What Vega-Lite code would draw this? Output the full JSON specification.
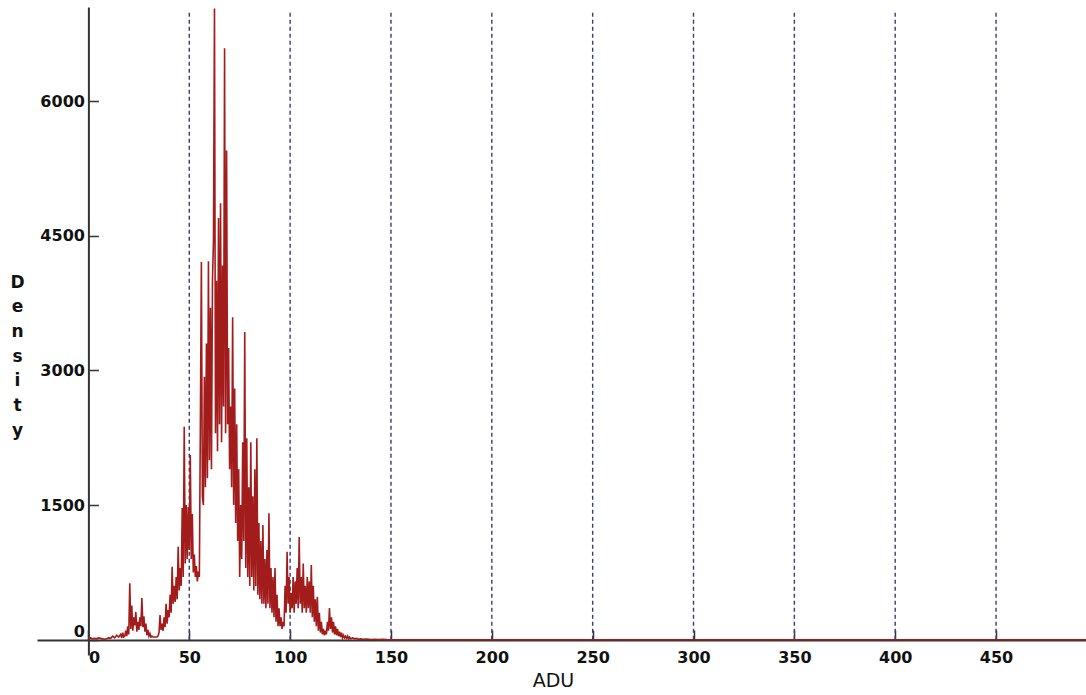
{
  "$schema": "https://vega.github.io/schema/vega-lite/v6.json",
  "width": 1049,
  "height": 648,
  "autosize": "none",
  "padding": {"left": 37, "top": 7, "right": 0, "bottom": 40},
  "background": "white",
  "config": {"view": {"stroke": null}},
  "layer": [
    {
      "data": {"values": [{"x": 50}, {"x": 100}, {"x": 150}, {"x": 200}, {"x": 250}, {"x": 300}, {"x": 350}, {"x": 400}, {"x": 450}]},
      "mark": {"type": "rule", "color": "#3a3a80", "strokeWidth": 1.4, "strokeDash": [4, 3]},
      "encoding": {
        "x": {"field": "x", "type": "quantitative", "scale": {"domain": [-25.5, 494.6], "nice": false, "zero": false},
          "axis": {"title": "ADU", "format": "d", "values": [0, 50, 100, 150, 200, 250, 300, 350, 400, 450], "orient": "bottom", "offset": -15, "domainColor": "#333", "domainWidth": 2, "tickColor": "#333", "tickWidth": 1.5, "tickSize": -10, "labelPadding": 19, "labelFont": "DejaVu Sans", "labelFontWeight": "bold", "labelFontSize": 16, "labelColor": "#111", "labelAlign": {"condition": {"test": "datum.value === 0", "value": "left"}, "value": "center"}, "labelBaseline": "top", "labelFlush": false, "labelOverlap": false, "grid": false, "titleFont": "DejaVu Sans", "titleFontSize": 19, "titleFontWeight": "normal", "titleColor": "#111", "titleX": 516, "titleY": 31, "titleAlign": "center", "titleBaseline": "top"}},
        "y": {"datum": 0, "type": "quantitative", "scale": {"domain": [-170, 7050], "nice": false, "zero": false},
          "axis": {"title": ["D", "e", "n", "s", "i", "t", "y"], "format": "d", "values": [0, 1500, 3000, 4500, 6000], "offset": -51.4, "domainColor": "#333", "domainWidth": 2, "tickColor": "#333", "tickWidth": 1.5, "tickSize": -10, "labelPadding": 14, "labelFont": "DejaVu Sans", "labelFontWeight": "bold", "labelFontSize": 16, "labelColor": "#111", "labelAlign": "right", "labelBaseline": {"condition": {"test": "datum.value === 0", "value": "bottom"}, "value": "middle"}, "labelOverlap": false, "labelFlush": false, "grid": false, "titleAngle": 0, "titleX": -71.4, "titleY": 280, "titleAlign": "center", "titleBaseline": "alphabetic", "titleLineHeight": 24.7, "titleFont": "DejaVu Sans", "titleFontWeight": "bold", "titleFontSize": 17, "titleColor": "#111"}},
        "y2": {"datum": 6990}
      }
    },
    {
      "data": {"values": [
        {"x": 0, "y": 10}, {"x": 1, "y": 20}, {"x": 2, "y": 10}, {"x": 3, "y": 15}, {"x": 4, "y": 10}, {"x": 5, "y": 20}, {"x": 6, "y": 15}, {"x": 7, "y": 10}, {"x": 8, "y": 5}, {"x": 9, "y": 10},
        {"x": 10, "y": 20}, {"x": 11, "y": 15}, {"x": 12, "y": 40}, {"x": 13, "y": 20}, {"x": 14, "y": 50}, {"x": 15, "y": 30}, {"x": 16, "y": 60}, {"x": 16.5, "y": 20}, {"x": 17, "y": 80}, {"x": 17.5, "y": 30},
        {"x": 18, "y": 40}, {"x": 18.5, "y": 100}, {"x": 19, "y": 40}, {"x": 19.5, "y": 150}, {"x": 20, "y": 60}, {"x": 20.5, "y": 630}, {"x": 21, "y": 120}, {"x": 21.5, "y": 380}, {"x": 22, "y": 100}, {"x": 22.5, "y": 250},
        {"x": 23, "y": 160}, {"x": 23.5, "y": 310}, {"x": 24, "y": 90}, {"x": 24.5, "y": 200}, {"x": 25, "y": 110}, {"x": 25.5, "y": 250}, {"x": 26, "y": 150}, {"x": 26.5, "y": 465}, {"x": 27, "y": 140}, {"x": 27.5, "y": 260},
        {"x": 28, "y": 90}, {"x": 28.5, "y": 180}, {"x": 29, "y": 50}, {"x": 29.5, "y": 110}, {"x": 30, "y": 40}, {"x": 30.5, "y": 70}, {"x": 31, "y": 30}, {"x": 31.5, "y": 40}, {"x": 32, "y": 30}, {"x": 33, "y": 30},
        {"x": 34, "y": 30}, {"x": 34.5, "y": 40}, {"x": 35, "y": 80}, {"x": 35.5, "y": 275}, {"x": 36, "y": 110}, {"x": 36.5, "y": 180}, {"x": 37, "y": 100}, {"x": 37.5, "y": 250}, {"x": 38, "y": 140}, {"x": 38.5, "y": 400},
        {"x": 39, "y": 180}, {"x": 39.5, "y": 330}, {"x": 40, "y": 250}, {"x": 40.5, "y": 500}, {"x": 41, "y": 300}, {"x": 41.5, "y": 813}, {"x": 42, "y": 400}, {"x": 42.5, "y": 600}, {"x": 43, "y": 420}, {"x": 43.5, "y": 700},
        {"x": 44, "y": 450}, {"x": 44.5, "y": 1036}, {"x": 45, "y": 550}, {"x": 45.5, "y": 800}, {"x": 46, "y": 600}, {"x": 46.5, "y": 1467}, {"x": 47, "y": 700}, {"x": 47.5, "y": 2373}, {"x": 48, "y": 850}, {"x": 48.5, "y": 1500},
        {"x": 49, "y": 900}, {"x": 49.5, "y": 1480}, {"x": 50, "y": 1000}, {"x": 50.5, "y": 2057}, {"x": 51, "y": 900}, {"x": 51.5, "y": 1400}, {"x": 52, "y": 750}, {"x": 52.5, "y": 950}, {"x": 53, "y": 700}, {"x": 53.5, "y": 820},
        {"x": 54, "y": 650}, {"x": 54.5, "y": 760}, {"x": 55, "y": 700}, {"x": 55.5, "y": 2400}, {"x": 56, "y": 4210}, {"x": 56.5, "y": 1600}, {"x": 57, "y": 1500}, {"x": 57.5, "y": 2930}, {"x": 58, "y": 1700}, {"x": 58.5, "y": 3300},
        {"x": 59, "y": 1800}, {"x": 59.5, "y": 4218}, {"x": 60, "y": 2000}, {"x": 60.5, "y": 3700}, {"x": 61, "y": 1900}, {"x": 61.5, "y": 4000}, {"x": 62, "y": 4452}, {"x": 62.5, "y": 7033}, {"x": 63, "y": 2300}, {"x": 63.5, "y": 4000},
        {"x": 64, "y": 2100}, {"x": 64.5, "y": 4700}, {"x": 65, "y": 2400}, {"x": 65.5, "y": 4863}, {"x": 66, "y": 2200}, {"x": 66.5, "y": 4170}, {"x": 67, "y": 2600}, {"x": 67.5, "y": 6590}, {"x": 68, "y": 2300}, {"x": 68.5, "y": 5450},
        {"x": 69, "y": 2400}, {"x": 69.5, "y": 3250}, {"x": 70, "y": 1900}, {"x": 70.5, "y": 2600}, {"x": 71, "y": 1700}, {"x": 71.5, "y": 3593}, {"x": 72, "y": 1500}, {"x": 72.5, "y": 2800}, {"x": 73, "y": 1300}, {"x": 73.5, "y": 2400},
        {"x": 74, "y": 1100}, {"x": 74.5, "y": 1900}, {"x": 75, "y": 700}, {"x": 75.5, "y": 1500}, {"x": 76, "y": 900}, {"x": 76.5, "y": 2200}, {"x": 77, "y": 1100}, {"x": 77.5, "y": 3430}, {"x": 78, "y": 800}, {"x": 78.5, "y": 2245},
        {"x": 79, "y": 700}, {"x": 79.5, "y": 1700}, {"x": 80, "y": 600}, {"x": 80.5, "y": 2200}, {"x": 81, "y": 700}, {"x": 81.5, "y": 1600}, {"x": 82, "y": 550}, {"x": 82.5, "y": 1900}, {"x": 83, "y": 600}, {"x": 83.5, "y": 2245},
        {"x": 84, "y": 500}, {"x": 84.5, "y": 1300}, {"x": 85, "y": 450}, {"x": 85.5, "y": 1100}, {"x": 86, "y": 400}, {"x": 86.5, "y": 1278}, {"x": 87, "y": 400}, {"x": 87.5, "y": 900}, {"x": 88, "y": 350}, {"x": 88.5, "y": 1000},
        {"x": 89, "y": 400}, {"x": 89.5, "y": 1410}, {"x": 90, "y": 350}, {"x": 90.5, "y": 800}, {"x": 91, "y": 300}, {"x": 91.5, "y": 700}, {"x": 92, "y": 250}, {"x": 92.5, "y": 800}, {"x": 93, "y": 200}, {"x": 93.5, "y": 500},
        {"x": 94, "y": 150}, {"x": 94.5, "y": 350}, {"x": 95, "y": 150}, {"x": 95.5, "y": 250}, {"x": 96, "y": 120}, {"x": 96.5, "y": 200}, {"x": 97, "y": 150}, {"x": 97.5, "y": 600}, {"x": 98, "y": 300}, {"x": 98.5, "y": 980},
        {"x": 99, "y": 400}, {"x": 99.5, "y": 700}, {"x": 100, "y": 300}, {"x": 100.5, "y": 520}, {"x": 101, "y": 350}, {"x": 101.5, "y": 700}, {"x": 102, "y": 300}, {"x": 102.5, "y": 650}, {"x": 103, "y": 400}, {"x": 103.5, "y": 800},
        {"x": 104, "y": 350}, {"x": 104.5, "y": 1144}, {"x": 105, "y": 400}, {"x": 105.5, "y": 700}, {"x": 106, "y": 300}, {"x": 106.5, "y": 850}, {"x": 107, "y": 350}, {"x": 107.5, "y": 600}, {"x": 108, "y": 300}, {"x": 108.5, "y": 700},
        {"x": 109, "y": 350}, {"x": 109.5, "y": 650}, {"x": 110, "y": 300}, {"x": 110.5, "y": 832}, {"x": 111, "y": 250}, {"x": 111.5, "y": 600}, {"x": 112, "y": 200}, {"x": 112.5, "y": 450}, {"x": 113, "y": 150}, {"x": 113.5, "y": 480},
        {"x": 114, "y": 100}, {"x": 114.5, "y": 300}, {"x": 115, "y": 80}, {"x": 115.5, "y": 200}, {"x": 116, "y": 60}, {"x": 116.5, "y": 120}, {"x": 117, "y": 50}, {"x": 117.5, "y": 100}, {"x": 118, "y": 60}, {"x": 118.5, "y": 200},
        {"x": 119, "y": 100}, {"x": 119.5, "y": 353}, {"x": 120, "y": 120}, {"x": 120.5, "y": 250}, {"x": 121, "y": 80}, {"x": 121.5, "y": 200}, {"x": 122, "y": 60}, {"x": 122.5, "y": 150}, {"x": 123, "y": 50}, {"x": 123.5, "y": 120},
        {"x": 124, "y": 40}, {"x": 124.5, "y": 90}, {"x": 125, "y": 30}, {"x": 125.5, "y": 80}, {"x": 126, "y": 20}, {"x": 126.5, "y": 50}, {"x": 127, "y": 20}, {"x": 127.5, "y": 40}, {"x": 128, "y": 15}, {"x": 128.5, "y": 40},
        {"x": 129, "y": 10}, {"x": 129.5, "y": 30}, {"x": 130, "y": 10}, {"x": 131, "y": 20}, {"x": 132, "y": 10}, {"x": 133, "y": 15}, {"x": 134, "y": 5}, {"x": 135, "y": 10}, {"x": 136, "y": 5}, {"x": 138, "y": 8},
        {"x": 140, "y": 3}, {"x": 142, "y": 5}, {"x": 144, "y": 3}, {"x": 146, "y": 5}, {"x": 148, "y": 2}, {"x": 150, "y": 0}, {"x": 496, "y": 0}
      ]},
      "mark": {"type": "line", "color": "#a31c1c", "strokeWidth": 1.6, "clip": true},
      "encoding": {
        "x": {"field": "x", "type": "quantitative", "sort": null,
          "axis": {"title": "ADU", "format": "d", "values": [0, 50, 100, 150, 200, 250, 300, 350, 400, 450], "orient": "bottom", "offset": -15, "domainColor": "#333", "domainWidth": 2, "tickColor": "#333", "tickWidth": 1.5, "tickSize": -10, "labelPadding": 19, "labelFont": "DejaVu Sans", "labelFontWeight": "bold", "labelFontSize": 16, "labelColor": "#111", "labelAlign": {"condition": {"test": "datum.value === 0", "value": "left"}, "value": "center"}, "labelBaseline": "top", "labelFlush": false, "labelOverlap": false, "grid": false, "titleFont": "DejaVu Sans", "titleFontSize": 19, "titleFontWeight": "normal", "titleColor": "#111", "titleX": 516, "titleY": 31, "titleAlign": "center", "titleBaseline": "top"}},
        "y": {"field": "y", "type": "quantitative",
          "axis": {"title": ["D", "e", "n", "s", "i", "t", "y"], "format": "d", "values": [0, 1500, 3000, 4500, 6000], "offset": -51.4, "domainColor": "#333", "domainWidth": 2, "tickColor": "#333", "tickWidth": 1.5, "tickSize": -10, "labelPadding": 14, "labelFont": "DejaVu Sans", "labelFontWeight": "bold", "labelFontSize": 16, "labelColor": "#111", "labelAlign": "right", "labelBaseline": {"condition": {"test": "datum.value === 0", "value": "bottom"}, "value": "middle"}, "labelOverlap": false, "labelFlush": false, "grid": false, "titleAngle": 0, "titleX": -71.4, "titleY": 280, "titleAlign": "center", "titleBaseline": "alphabetic", "titleLineHeight": 24.7, "titleFont": "DejaVu Sans", "titleFontWeight": "bold", "titleFontSize": 17, "titleColor": "#111"}}
      }
    }
  ]
}
